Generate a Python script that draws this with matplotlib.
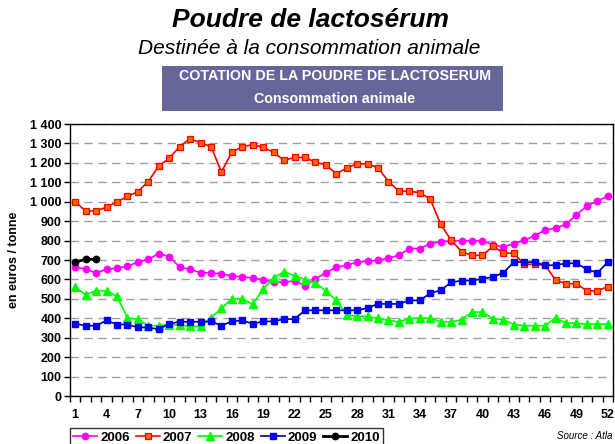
import matplotlib
matplotlib.use("Agg")
import matplotlib.pyplot as plt
from matplotlib.patches import Rectangle
from matplotlib.ticker import FuncFormatter, MultipleLocator, FixedLocator

plt.rcParams['font.family'] = ['Liberation Sans', 'DejaVu Sans']

weeks = list(range(1, 53))
s2006 = [665, 652, 634, 652, 658, 668, 689, 704, 733, 718,
         663, 652, 634, 634, 628, 618, 613, 608, 598, 587,
         587, 592, 568, 603, 634, 663, 673, 689, 694, 699,
         709, 725, 759, 759, 784, 794, 799, 799, 799, 799,
         778, 768, 784, 802, 825, 854, 864, 884, 933, 978,
         1004, 1028]
s2007 = [1000, 952, 952, 972, 1000, 1027, 1052, 1104, 1184, 1224,
         1284, 1324, 1303, 1284, 1153, 1255, 1284, 1293, 1280, 1254,
         1213, 1228, 1228, 1203, 1190, 1143, 1174, 1195, 1195, 1174,
         1104, 1054, 1054, 1046, 1014, 883, 802, 743, 724, 724,
         770, 737, 734, 678, 678, 673, 597, 578, 578, 541,
         541, 563]
s2008 = [559, 522, 542, 542, 513, 403, 394, 362, 362, 368,
         365, 358, 358, 403, 451, 501, 501, 472, 551, 609,
         639, 620, 599, 582, 541, 492, 418, 410, 410, 399,
         389, 382, 398, 402, 401, 382, 382, 393, 432, 432,
         398, 393, 368, 362, 362, 362, 403, 375, 375, 370,
         370, 370]
s2009 = [372, 362, 362, 389, 368, 368, 353, 353, 343, 372,
         382, 382, 382, 384, 362, 384, 389, 372, 384, 384,
         396, 396, 441, 441, 441, 441, 441, 441, 453, 474,
         474, 474, 492, 492, 529, 544, 585, 594, 594, 603,
         613, 634, 689, 689, 689, 673, 673, 683, 683, 652,
         634, 689]
s2010 = [689, 704, 704]

x_tick_labels = list(range(1, 53, 3))
title = "Poudre de lactosérum"
subtitle = "Destinée à la consommation animale"
box_line1 = "COTATION DE LA POUDRE DE LACTOSERUM"
box_line2 = "Consommation animale"
ylabel = "en euros / tonne"
source = "Source : Atla"

W, H = 615, 444
fig = plt.figure(figsize=(W / 100, H / 100), dpi=100)
ax = fig.add_axes([70 / W, 1 - 396 / H, (613 - 70) / W, (396 - 124) / H])

ax.plot(weeks, s2006, color='#FF00FF', lw=1.2, marker='o', ms=4.6,
        mfc='#FF00FF', mec='#FF00FF', label='2006', zorder=3)
ax.plot(weeks, s2007, color='#FF0000', lw=1.2, marker='s', ms=4.3,
        mfc='#FF6600', mec='#FF0000', mew=0.9, label='2007', zorder=3)
ax.plot(weeks, s2008, color='#00FF00', lw=1.2, marker='^', ms=5.2,
        mfc='#00FF00', mec='#00FF00', label='2008', zorder=3)
ax.plot(weeks, s2009, color='#000080', lw=1.2, marker='s', ms=4.3,
        mfc='#0000FF', mec='#0000FF', label='2009', zorder=3)
ax.plot(weeks[:len(s2010)], s2010, color='#000000', lw=2.0, marker='o', ms=4.6,
        mfc='#000000', mec='#000000', label='2010', zorder=4)

ax.set_xlim(0.5, 52.5)
ax.set_ylim(0, 1400)
ax.yaxis.set_major_locator(MultipleLocator(100))
ax.yaxis.set_major_formatter(FuncFormatter(
    lambda v, p: f"{int(v):,}".replace(",", " ")))
ax.set_xticks(x_tick_labels)
ax.set_xticklabels([str(v) for v in x_tick_labels])
ax.xaxis.set_minor_locator(FixedLocator([w + 0.5 for w in range(0, 53)]))
ax.tick_params(axis='x', which='major', length=0, pad=9, labelsize=9)
ax.tick_params(axis='x', which='minor', length=4, direction='out', width=1)
ax.tick_params(axis='y', which='major', length=4, direction='out', width=1,
               labelsize=9, pad=2)
for lab in ax.get_xticklabels() + ax.get_yticklabels():
    lab.set_fontweight('bold')

ax.grid(axis='y', color='#A0A0A0', linestyle=(0, (6, 4)), linewidth=1)
ax.set_axisbelow(True)
for sp in ax.spines.values():
    sp.set_color('black')
    sp.set_linewidth(1)

fig.text(14 / W, 1 - 260 / H, ylabel, rotation=90, ha='center', va='center',
         fontsize=9, fontweight='bold')

fig.text(310 / W, 1 - 20 / H, title, ha='center', va='center', fontsize=19,
         fontweight='bold', fontstyle='italic')
fig.text(309 / W, 1 - 48 / H, subtitle, ha='center', va='center', fontsize=15,
         fontstyle='italic')
fig.patches.append(Rectangle((162 / W, 1 - 111 / H), (503 - 162) / W, (111 - 66) / H,
                             transform=fig.transFigure, facecolor='#666699',
                             edgecolor='none'))
fig.text(335 / W, 1 - 76 / H, box_line1, ha='center', va='center', fontsize=10.3,
         fontweight='bold', color='white')
fig.text(335 / W, 1 - 99 / H, box_line2, ha='center', va='center', fontsize=10.3,
         fontweight='bold', color='white')

leg = fig.legend(loc='upper left', bbox_to_anchor=(70 / W, 1 - 428 / H), ncol=5,
                 frameon=True, fancybox=False, edgecolor='black',
                 prop={'weight': 'bold', 'size': 9.5}, handlelength=1.8,
                 handletextpad=0.25, columnspacing=0.45, borderpad=0.25,
                 borderaxespad=0)
leg.get_frame().set_linewidth(1)

fig.text(612 / W, 1 - 436 / H, source, ha='right', va='center', fontsize=7,
         fontstyle='italic')

fig.savefig('out.png', dpi=100)
